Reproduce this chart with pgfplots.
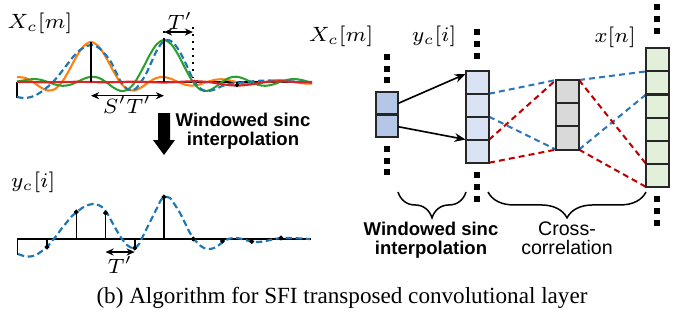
\RequirePackage{fix-cm}
\documentclass[border=0pt]{standalone}
\usepackage[no-math]{fontspec}
\setmainfont{Liberation Serif}
\setsansfont{Liberation Sans}
\usepackage{pgfplots}
\pgfplotsset{compat=1.18}
\usetikzlibrary{arrows.meta,decorations.pathreplacing}
\definecolor{mplblue}{HTML}{1F77B4}
\definecolor{mplorange}{HTML}{FF7F0E}
\definecolor{mplgreen}{HTML}{2CA02C}
\definecolor{mplred}{HTML}{D62728}
\definecolor{pptblue}{HTML}{2E75B6}
\definecolor{pptred}{HTML}{C00000}
\definecolor{boxA}{HTML}{B4C7E7}
\definecolor{boxB}{HTML}{DAE3F3}
\definecolor{boxC}{HTML}{D9D9D9}
\definecolor{boxD}{HTML}{E2F0D9}
\definecolor{edge}{HTML}{262626}
\tikzset{
  mathlbl/.style={font=\fontsize{7.6}{9}\selectfont, inner sep=0pt},
  boldsans/.style={font=\fontsize{6.8}{7}\selectfont\sffamily\bfseries, anchor=base, inner sep=0pt},
  regsans/.style={font=\fontsize{7.2}{7}\selectfont\sffamily, anchor=base, inner sep=0pt},
  dbl/.style={{Stealth[length=3pt,width=2.6pt]}-{Stealth[length=3pt,width=2.6pt]}, line width=0.55pt},
  bx/.style={draw=edge, line width=0.75pt},
  conn/.style={line width=0.75pt, dash pattern=on 2.2pt off 1.5pt},
}
\begin{document}
\begin{tikzpicture}
\begin{axis}[hide axis, scale only axis, width=252pt, height=118.29pt,
  xmin=0, xmax=686, ymin=0, ymax=322, y dir=reverse, clip=false]
\path (0,0) rectangle (686,322);

% ---------------- top-left plot ----------------
\addplot[black, line width=0.5pt] coordinates {(17,82)(312,82)};
\addplot[black, line width=0.5pt] coordinates {(17,82)(17,98)};
% orange sinc (centre 91)
\addplot[mplorange, line width=0.75pt, smooth] coordinates {
(17,77.0)(25.75,78.0)(33,82)(40.25,87.1)(47.5,90.5)(54.75,89.2)(62,82)(69.25,70.0)(76.5,56.5)(83.75,46.0)(91,42)(98.25,46.0)(105.5,56.5)(112.75,70.0)(120,82)(127.25,89.2)(134.5,90.5)(141.75,87.1)(149,82)(156.25,78.0)(163.5,76.9)(170.75,78.7)(178,82)(185.25,84.8)(192.5,85.6)(199.75,84.4)(207,82)(214.25,79.9)(221.5,79.2)(228.75,80.1)(236,82)(243.25,83.7)(250.5,84.3)(257.75,83.6)(265,82)(272.25,80.6)(279.5,80.0)(286.75,80.7)(294,82)(301.25,83.2)(308.5,83.7)(312,83.5)};
% green sinc (centre 164)
\addplot[mplgreen, line width=0.75pt, smooth] coordinates {
(17,81.5)(26.25,80.0)(33.5,79.0)(40.75,79.8)(48,82)(55.25,84.5)(62.5,85.8)(69.75,84.9)(77,82)(84.25,78.6)(91.5,76.7)(98.75,77.8)(106,82)(113.25,87.4)(120.5,90.9)(127.75,89.6)(135,82)(142.25,69.4)(149.5,55.3)(156.75,44.2)(164,40)(171.25,44.2)(178.5,55.3)(185.75,69.4)(193,82)(200.25,89.6)(207.5,90.9)(214.75,87.4)(222,82)(229.25,77.8)(236.5,76.7)(243.75,78.6)(251,82)(258.25,84.9)(265.5,85.8)(272.75,84.5)(280,82)(287.25,79.8)(294.5,79.0)(301.75,80.0)(309,82)(312,82.8)};
% blue dashed (interpolated signal)
\addplot[mplblue, line width=0.8pt, dash pattern=on 2.4pt off 1.3pt, smooth] coordinates {
(17,97)(24,98)(31,97)(38,94)(45,89)(52,83)(59,75)(66,66)(73,57)(80,50)(87,46)(93,45)(99,48)(105,54)(111,62)(116,72)(121,82)(126,88)(131,90.5)(136,88.5)(141,82)(146,74)(151,63)(156,52)(161,44)(166,40)(171,41)(176,46)(181,54)(186,64)(191,75)(196,84)(201,89)(206,91)(211,90.5)(216,89)(222,86)(229,84)(237,83)(246,82)(256,81)(268,80.5)(280,81)(295,81.5)(312,82)};
% red sinc (centre 237, tiny)
\addplot[mplred, line width=0.8pt, smooth] coordinates {
(17,82)(48.5,82.17)(77.5,81.8)(106.5,82.25)(135.5,81.68)(164.5,82.45)(193.5,81.26)(208,82)(215.25,83.05)(222.5,84.2)(229.75,85.15)(237,85.5)(244.25,85.15)(251.5,84.2)(258.75,83.05)(266,82)(280.5,81.26)(295,82)(312,82.4)};
% stems
\addplot[black, line width=0.55pt] coordinates {(91,82)(91,42)};
\addplot[black, line width=0.55pt] coordinates {(164,82)(164,40)};
\addplot[black, line width=0.55pt] coordinates {(237,82)(237,85)};
\addplot[only marks, mark=*, mark size=0.6pt, black] coordinates {(237,85)};
\addplot[black, line width=0.6pt, dotted] coordinates {(164,40)(164,27)};
\addplot[black, line width=0.6pt, dotted] coordinates {(193,27)(193,82)};
\draw[dbl] (164,32) -- (193,32);
\draw[dbl] (91,95.7) -- (164,95.7);
\node[mathlbl] at (40,23) {$X_c[m]$};
\node[mathlbl] at (180,21) {$T'$};
\node[mathlbl] at (127,105) {$S'T'$};

% big arrow + text
\fill[black] (158,113) -- (170,113) -- (170,140) -- (175,140) -- (164,155) -- (153,140) -- (158,140) -- cycle;
\node[boldsans] at (243,126) {Windowed sinc};
\node[boldsans] at (243,145) {interpolation};

% ---------------- bottom-left plot ----------------
\addplot[black, line width=0.5pt] coordinates {(17,239)(311,239)};
\addplot[mplblue, line width=0.8pt, dash pattern=on 2.4pt off 1.3pt, smooth] coordinates {
(18,254)(24,256)(30,256.5)(36,255)(42,251)(47,247)(52,241)(57,235)(62,228)(67,222)(72,216)(77,212)(82,208)(87,205.5)(92,204)(97,204.5)(102,207)(107,213)(112,222)(117,231)(122,239)(127,245)(132,248)(135,248)(139,244)(143,236)(147,228)(152,218)(157,208)(161,200)(165,197)(170,198)(175,205)(180,213)(185,223)(190,233)(194,239)(199,244.5)(204,248)(209,249)(214,248)(219,245)(224,241)(230,238.5)(237,238)(244,239.5)(251,241.5)(258,242)(266,241)(274,239)(282,238)(292,238)(302,238.5)(310,239)};
\addplot[black, line width=0.55pt] coordinates {(17.75,239)(17.75,255)};
\addplot[black, line width=0.55pt] coordinates {(47,239)(47,247)};
\addplot[black, line width=0.55pt] coordinates {(76.25,239)(76.25,212)};
\addplot[black, line width=0.55pt] coordinates {(105.5,239)(105.5,213)};
\addplot[black, line width=0.55pt] coordinates {(134.75,239)(134.75,248)};
\addplot[black, line width=0.55pt] coordinates {(164,239)(164,197)};
\addplot[black, line width=0.55pt] coordinates {(222.5,239)(222.5,241)};
\addplot[black, line width=0.55pt] coordinates {(251.75,239)(251.75,241.5)};
\addplot[only marks, mark=*, mark size=0.7pt, black] coordinates {
(47,247)(76.25,212)(105.5,213)(134.75,248)(164,197)(193.25,239)(222.5,241)(251.75,241.5)(281,238)};
\draw[dbl] (105.5,252) -- (134.75,252);
\node[mathlbl] at (120,265) {$T'$};
\node[mathlbl] at (33,182) {$y_c[i]$};

% ---------------- right diagram ----------------
% connection lines
\addplot[pptblue, conn] coordinates {(489,93.7)(556,80)};
\addplot[pptblue, conn] coordinates {(579,80)(646,71.4)};
\addplot[pptblue, conn] coordinates {(489,116.7)(556,149.6)};
\addplot[pptblue, conn] coordinates {(579,149.6)(646,94.5)};
\addplot[pptred, conn] coordinates {(489,139.7)(556,80)};
\addplot[pptred, conn] coordinates {(579,80)(646,163.8)};
\addplot[pptred, conn] coordinates {(489,162.7)(556,149.6)};
\addplot[pptred, conn] coordinates {(579,149.6)(646,186.9)};
% boxes
\draw[bx, fill=boxA] (376,92) rectangle (398,137);
\draw[bx] (376,114.5) -- (398,114.5);
\draw[bx, fill=boxB] (466,70.7) rectangle (489,162.7);
\draw[bx] (466,93.7) -- (489,93.7);
\draw[bx] (466,116.7) -- (489,116.7);
\draw[bx] (466,139.7) -- (489,139.7);
\draw[bx, fill=boxC] (556,80) rectangle (579,149.6);
\draw[bx] (556,103.2) -- (579,103.2);
\draw[bx] (556,126.4) -- (579,126.4);
\draw[bx, fill=boxD] (646,48.3) rectangle (669.3,186.9);
\draw[bx] (646,71.4) -- (669.3,71.4);
\draw[bx] (646,94.5) -- (669.3,94.5);
\draw[bx] (646,117.6) -- (669.3,117.6);
\draw[bx] (646,140.7) -- (669.3,140.7);
\draw[bx] (646,163.8) -- (669.3,163.8);
% arrows
\draw[-{Stealth[length=4pt,width=3.2pt]}, line width=0.6pt] (398.3,103.3) -- (465.5,74);
\draw[-{Stealth[length=4pt,width=3.2pt]}, line width=0.6pt] (398.3,126.7) -- (465.5,139.5);
% vertical ellipsis squares
\addplot[only marks, mark=square*, mark size=0.9pt, black] coordinates {
(387,57)(387,68.5)(387,80)(387,149)(387,160.5)(387,172)
(477,32.3)(477,44)(477,55.7)(477,175)(477,187)(477,199)
(657,7.3)(657,19)(657,30.7)(657,199.3)(657,211)(657,222.7)};
% labels
\node[mathlbl] at (341,36) {$X_c[m]$};
\node[mathlbl] at (434,36) {$y_c[i]$};
\node[mathlbl] at (615,37) {$x[n]$};
% braces
\draw[line width=0.55pt, decorate, decoration={brace, amplitude=9.5pt, mirror}] (398,192) -- (466,192);
\draw[line width=0.55pt, decorate, decoration={brace, amplitude=9.5pt, mirror}] (488,192) -- (646,192);
\node[boldsans] at (431,235) {Windowed sinc};
\node[boldsans] at (431,254) {interpolation};
\node[regsans] at (567,235) {Cross-};
\node[regsans] at (567,254) {correlation};

% caption
\node[font=\fontsize{8.5}{10}\selectfont, anchor=base, inner sep=0pt] at (342,303) {(b) Algorithm for SFI transposed convolutional layer};
\end{axis}
\end{tikzpicture}
\end{document}
